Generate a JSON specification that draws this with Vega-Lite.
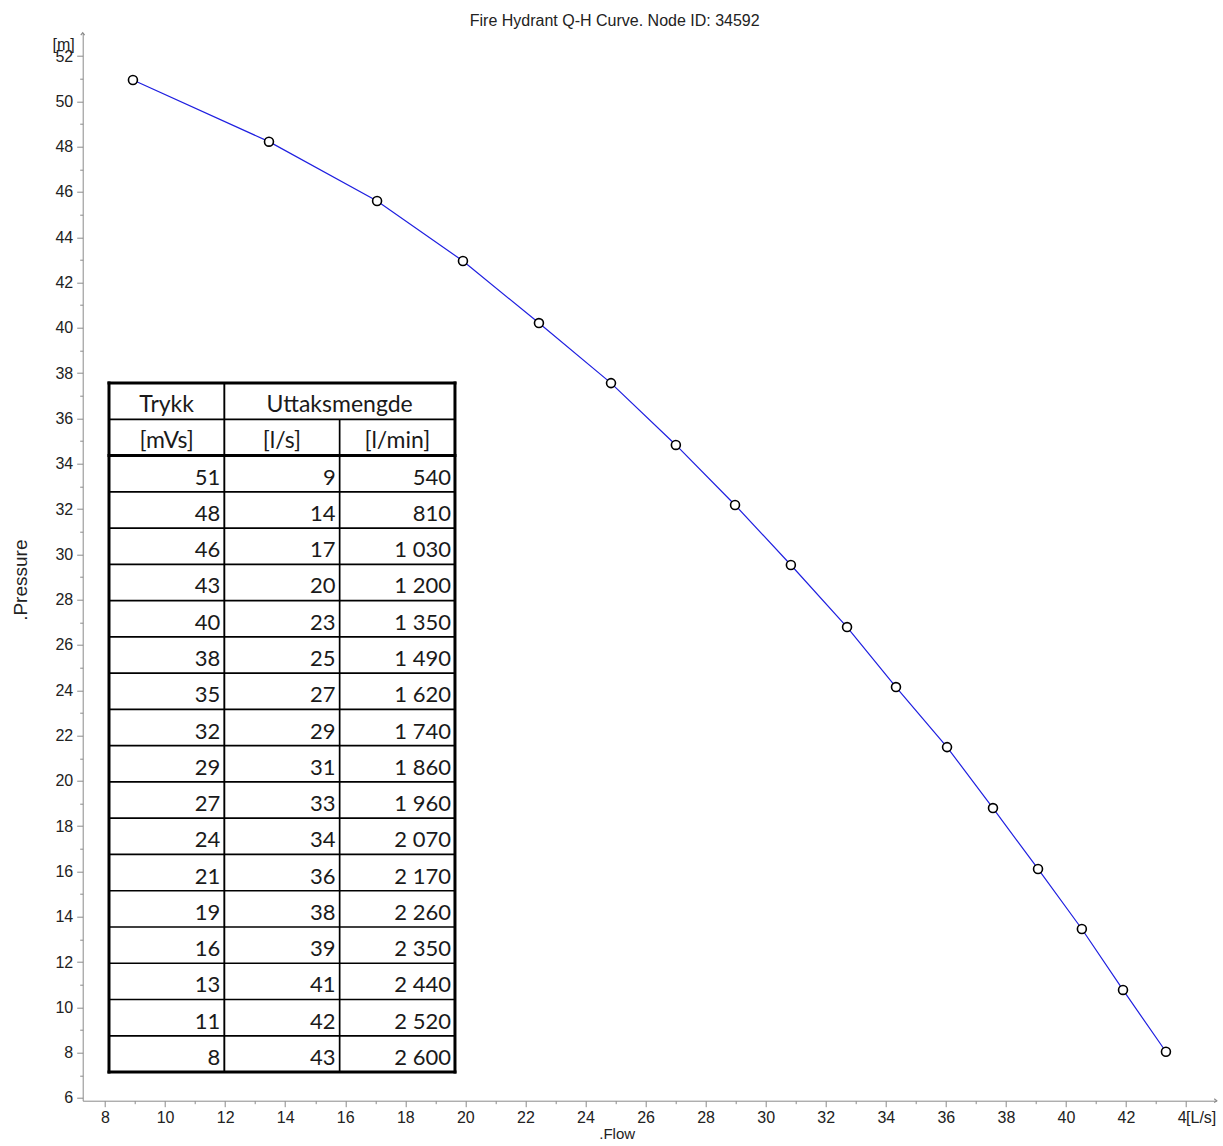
{
  "$schema": "https://vega.github.io/schema/vega-lite/v6.json",
  "width": 1134,
  "height": 1068,
  "autosize": {"type": "none"},
  "padding": {"left": 82.7, "top": 32.7, "right": 6.3, "bottom": 45.3},
  "background": "white",
  "config": {
    "locale": {"number": {"decimal": ",", "thousands": "\u00a0", "grouping": [3], "currency": ["", " kr"]}},
    "view": {"stroke": null},
    "axis": {
      "grid": false,
      "domainColor": "#8a8a8a",
      "tickColor": "#8a8a8a",
      "labelColor": "#222222",
      "labelFont": "Liberation Sans",
      "labelFontSize": 16,
      "labelOverlap": false,
      "titleFont": "Liberation Sans",
      "titleFontSize": 15,
      "titleFontWeight": "normal",
      "titleColor": "#222222"
    }
  },
  "title": {
    "text": "Fire Hydrant Q-H Curve. Node ID: 34592",
    "font": "Liberation Sans",
    "fontSize": 16,
    "fontWeight": "normal",
    "color": "#222222",
    "anchor": "middle",
    "dx": -35,
    "offset": 1
  },
  "datasets": {
    "curve": [
      {"flow": 8.93, "pressure": 50.94},
      {"flow": 13.46, "pressure": 48.22},
      {"flow": 17.06, "pressure": 45.60},
      {"flow": 19.92, "pressure": 42.95},
      {"flow": 22.45, "pressure": 40.21},
      {"flow": 24.85, "pressure": 37.56},
      {"flow": 27.01, "pressure": 34.83},
      {"flow": 28.98, "pressure": 32.18},
      {"flow": 30.84, "pressure": 29.53},
      {"flow": 32.71, "pressure": 26.79},
      {"flow": 34.34, "pressure": 24.14},
      {"flow": 36.04, "pressure": 21.49},
      {"flow": 37.57, "pressure": 18.80},
      {"flow": 39.07, "pressure": 16.11},
      {"flow": 40.53, "pressure": 13.46},
      {"flow": 41.90, "pressure": 10.77},
      {"flow": 43.33, "pressure": 8.04}
    ],
    "hydrant_table": [
      {"trykk": 51, "ls": 9, "lmin": 540},
      {"trykk": 48, "ls": 14, "lmin": 810},
      {"trykk": 46, "ls": 17, "lmin": 1030},
      {"trykk": 43, "ls": 20, "lmin": 1200},
      {"trykk": 40, "ls": 23, "lmin": 1350},
      {"trykk": 38, "ls": 25, "lmin": 1490},
      {"trykk": 35, "ls": 27, "lmin": 1620},
      {"trykk": 32, "ls": 29, "lmin": 1740},
      {"trykk": 29, "ls": 31, "lmin": 1860},
      {"trykk": 27, "ls": 33, "lmin": 1960},
      {"trykk": 24, "ls": 34, "lmin": 2070},
      {"trykk": 21, "ls": 36, "lmin": 2170},
      {"trykk": 19, "ls": 38, "lmin": 2260},
      {"trykk": 16, "ls": 39, "lmin": 2350},
      {"trykk": 13, "ls": 41, "lmin": 2440},
      {"trykk": 11, "ls": 42, "lmin": 2520},
      {"trykk": 8, "ls": 43, "lmin": 2600}
    ],
    "thin_rows": [
      {"b": -0.5}, {"b": 1.5}, {"b": 2.5}, {"b": 3.5}, {"b": 4.5}, {"b": 5.5}, {"b": 6.5}, {"b": 7.5}, {"b": 8.5},
      {"b": 9.5}, {"b": 10.5}, {"b": 11.5}, {"b": 12.5}, {"b": 13.5}, {"b": 14.5}, {"b": 15.5}, {"b": 16.5}
    ],
    "thick_rows": [{"b": -1.5}, {"b": 0.5}, {"b": 17.5}],
    "thick_cols": [{"c": 0}, {"c": 3}],
    "one": [{}]
  },
  "layer": [
    {
      "layer": [
        {
          "data": {"name": "curve"},
          "mark": {"type": "line", "color": "#1f1fe0", "strokeWidth": 1.2},
          "encoding": {
            "x": {
              "field": "flow", "type": "quantitative",
              "scale": {"domain": [7.257, 45.02], "nice": false, "zero": false},
              "axis": {
                "orient": "bottom",
                "values": [8,10,12,14,16,18,20,22,24,26,28,30,32,34,36,38,40,42,44],
                "labelExpr": "datum.value === 44 ? '4' : datum.label",
                "labelAlign": {"condition": {"test": "datum.value === 44", "value": "right"}, "value": "center"},
                "tickSize": 6,
                "labelPadding": 3,
                "title": ".Flow",
                "titlePadding": 1,
                "titleX": 534
              }
            },
            "y": {
              "field": "pressure", "type": "quantitative",
              "scale": {"domain": [5.88, 53.03], "nice": false, "zero": false},
              "axis": {
                "orient": "left",
                "values": [6,8,10,12,14,16,18,20,22,24,26,28,30,32,34,36,38,40,42,44,46,48,50,52],
                "tickSize": 6,
                "labelPadding": 4,
                "title": ".Pressure",
                "titleFontSize": 19,
                "titlePadding": 24,
                "titleY": 547
              }
            }
          }
        },
        {
          "data": {"name": "curve"},
          "mark": {"type": "point", "shape": "circle", "filled": true, "fill": "white", "stroke": "black", "strokeWidth": 1.6, "size": 80, "opacity": 1},
          "encoding": {
            "x": {
              "field": "flow", "type": "quantitative",
              "axis": {
                "orient": "bottom",
                "values": [9,11,13,15,17,19,21,23,25,27,29,31,33,35,37,39,41,43],
                "tickSize": 3,
                "labels": false,
                "domain": false,
                "title": null
              }
            },
            "y": {
              "field": "pressure", "type": "quantitative",
              "axis": {
                "orient": "left",
                "values": [7,9,11,13,15,17,19,21,23,25,27,29,31,33,35,37,39,41,43,45,47,49,51],
                "tickSize": 3,
                "labels": false,
                "domain": false,
                "title": null
              }
            }
          }
        },
        {
          "data": {"name": "one"},
          "mark": {"type": "text", "text": "[m]", "font": "Liberation Sans", "fontSize": 16, "color": "#222222", "align": "center", "baseline": "middle", "dx": -19},
          "encoding": {
            "x": {"datum": 7.257, "type": "quantitative", "axis": null},
            "y": {"datum": 52.5, "type": "quantitative", "axis": null}
          }
        },
        {
          "data": {"name": "one"},
          "mark": {"type": "text", "text": "[L/s]", "font": "Liberation Sans", "fontSize": 16, "color": "#222222", "align": "left", "baseline": "middle", "dy": 17},
          "encoding": {
            "x": {"datum": 44, "type": "quantitative", "axis": null},
            "y": {"datum": 5.88, "type": "quantitative", "axis": null}
          }
        },
        {
          "data": {"name": "one"},
          "mark": {"type": "point", "shape": "M-0.7,0.9L0,0L0.7,0.9", "filled": false, "stroke": "#8a8a8a", "strokeWidth": 1.2, "size": 30, "opacity": 1},
          "encoding": {
            "x": {"datum": 7.257, "type": "quantitative", "axis": null},
            "y": {"datum": 53.03, "type": "quantitative", "axis": null}
          }
        },
        {
          "data": {"name": "one"},
          "mark": {"type": "point", "shape": "M-0.9,-0.7L0,0L-0.9,0.7", "filled": false, "stroke": "#8a8a8a", "strokeWidth": 1.2, "size": 30, "opacity": 1},
          "encoding": {
            "x": {"datum": 45.02, "type": "quantitative", "axis": null},
            "y": {"datum": 5.88, "type": "quantitative", "axis": null}
          }
        }
      ],
      "resolve": {"axis": {"x": "independent", "y": "independent"}}
    },
    {
      "layer": [
        {
          "data": {"name": "thin_rows"},
          "mark": {"type": "rule", "color": "black", "strokeWidth": 1.7},
          "encoding": {
            "y": {"field": "b", "type": "quantitative", "scale": {"domain": [-11.16, 18.29], "reverse": true, "nice": false, "zero": false}, "axis": null},
            "x": {"datum": 0, "type": "quantitative", "scale": {"domain": [-0.228, 9.605], "nice": false, "zero": false}, "axis": null},
            "x2": {"datum": 3}
          }
        },
        {
          "data": {"name": "thick_rows"},
          "mark": {"type": "rule", "color": "black", "strokeWidth": 3, "strokeCap": "square"},
          "encoding": {
            "y": {"field": "b", "type": "quantitative", "scale": {"domain": [-11.16, 18.29], "reverse": true, "nice": false, "zero": false}, "axis": null},
            "x": {"datum": 0, "type": "quantitative", "scale": {"domain": [-0.228, 9.605], "nice": false, "zero": false}, "axis": null},
            "x2": {"datum": 3}
          }
        },
        {
          "data": {"name": "thick_cols"},
          "mark": {"type": "rule", "color": "black", "strokeWidth": 3, "strokeCap": "square"},
          "encoding": {
            "x": {"field": "c", "type": "quantitative", "scale": {"domain": [-0.228, 9.605], "nice": false, "zero": false}, "axis": null},
            "y": {"datum": -1.5, "type": "quantitative", "scale": {"domain": [-11.16, 18.29], "reverse": true, "nice": false, "zero": false}, "axis": null},
            "y2": {"datum": 17.5}
          }
        },
        {
          "data": {"name": "one"},
          "mark": {"type": "rule", "color": "black", "strokeWidth": 1.9},
          "encoding": {
            "x": {"datum": 1, "type": "quantitative", "scale": {"domain": [-0.228, 9.605], "nice": false, "zero": false}, "axis": null},
            "y": {"datum": -1.5, "type": "quantitative", "scale": {"domain": [-11.16, 18.29], "reverse": true, "nice": false, "zero": false}, "axis": null},
            "y2": {"datum": 17.5}
          }
        },
        {
          "data": {"name": "one"},
          "mark": {"type": "rule", "color": "black", "strokeWidth": 1.7},
          "encoding": {
            "x": {"datum": 2, "type": "quantitative", "scale": {"domain": [-0.228, 9.605], "nice": false, "zero": false}, "axis": null},
            "y": {"datum": -0.5, "type": "quantitative", "scale": {"domain": [-11.16, 18.29], "reverse": true, "nice": false, "zero": false}, "axis": null},
            "y2": {"datum": 17.5}
          }
        },
        {
          "data": {"name": "one"},
          "mark": {"type": "text", "text": "Trykk", "font": "Lato", "fontSize": 23, "color": "#1a1a1a", "align": "center", "baseline": "alphabetic", "dy": 11},
          "encoding": {
            "x": {"datum": 0.5, "type": "quantitative", "scale": {"domain": [-0.228, 9.605], "nice": false, "zero": false}, "axis": null},
            "y": {"datum": -1, "type": "quantitative", "scale": {"domain": [-11.16, 18.29], "reverse": true, "nice": false, "zero": false}, "axis": null}
          }
        },
        {
          "data": {"name": "one"},
          "mark": {"type": "text", "text": "Uttaksmengde", "font": "Lato", "fontSize": 23, "color": "#1a1a1a", "align": "center", "baseline": "alphabetic", "dy": 11},
          "encoding": {
            "x": {"datum": 2, "type": "quantitative", "scale": {"domain": [-0.228, 9.605], "nice": false, "zero": false}, "axis": null},
            "y": {"datum": -1, "type": "quantitative", "scale": {"domain": [-11.16, 18.29], "reverse": true, "nice": false, "zero": false}, "axis": null}
          }
        },
        {
          "data": {"name": "one"},
          "mark": {"type": "text", "text": "[mVs]", "font": "Lato", "fontSize": 23, "color": "#1a1a1a", "align": "center", "baseline": "alphabetic", "dy": 11},
          "encoding": {
            "x": {"datum": 0.5, "type": "quantitative", "scale": {"domain": [-0.228, 9.605], "nice": false, "zero": false}, "axis": null},
            "y": {"datum": 0, "type": "quantitative", "scale": {"domain": [-11.16, 18.29], "reverse": true, "nice": false, "zero": false}, "axis": null}
          }
        },
        {
          "data": {"name": "one"},
          "mark": {"type": "text", "text": "[l/s]", "font": "Lato", "fontSize": 23, "color": "#1a1a1a", "align": "center", "baseline": "alphabetic", "dy": 11},
          "encoding": {
            "x": {"datum": 1.5, "type": "quantitative", "scale": {"domain": [-0.228, 9.605], "nice": false, "zero": false}, "axis": null},
            "y": {"datum": 0, "type": "quantitative", "scale": {"domain": [-11.16, 18.29], "reverse": true, "nice": false, "zero": false}, "axis": null}
          }
        },
        {
          "data": {"name": "one"},
          "mark": {"type": "text", "text": "[l/min]", "font": "Lato", "fontSize": 23, "color": "#1a1a1a", "align": "center", "baseline": "alphabetic", "dy": 11},
          "encoding": {
            "x": {"datum": 2.5, "type": "quantitative", "scale": {"domain": [-0.228, 9.605], "nice": false, "zero": false}, "axis": null},
            "y": {"datum": 0, "type": "quantitative", "scale": {"domain": [-11.16, 18.29], "reverse": true, "nice": false, "zero": false}, "axis": null}
          }
        },
        {
          "data": {"name": "hydrant_table"},
          "transform": [{"window": [{"op": "row_number", "as": "row"}]}],
          "mark": {"type": "text", "font": "Lato", "fontSize": 22, "color": "#1a1a1a", "align": "right", "baseline": "alphabetic", "dy": 11, "dx": -4},
          "encoding": {
            "x": {"datum": 1, "type": "quantitative", "scale": {"domain": [-0.228, 9.605], "nice": false, "zero": false}, "axis": null},
            "y": {"field": "row", "type": "quantitative", "scale": {"domain": [-11.16, 18.29], "reverse": true, "nice": false, "zero": false}, "axis": null},
            "text": {"field": "trykk", "type": "quantitative", "format": "d"}
          }
        },
        {
          "data": {"name": "hydrant_table"},
          "transform": [{"window": [{"op": "row_number", "as": "row"}]}],
          "mark": {"type": "text", "font": "Lato", "fontSize": 22, "color": "#1a1a1a", "align": "right", "baseline": "alphabetic", "dy": 11, "dx": -4},
          "encoding": {
            "x": {"datum": 2, "type": "quantitative", "scale": {"domain": [-0.228, 9.605], "nice": false, "zero": false}, "axis": null},
            "y": {"field": "row", "type": "quantitative", "scale": {"domain": [-11.16, 18.29], "reverse": true, "nice": false, "zero": false}, "axis": null},
            "text": {"field": "ls", "type": "quantitative", "format": "d"}
          }
        },
        {
          "data": {"name": "hydrant_table"},
          "transform": [{"window": [{"op": "row_number", "as": "row"}]}],
          "mark": {"type": "text", "font": "Lato", "fontSize": 22, "color": "#1a1a1a", "align": "right", "baseline": "alphabetic", "dy": 11, "dx": -4},
          "encoding": {
            "x": {"datum": 3, "type": "quantitative", "scale": {"domain": [-0.228, 9.605], "nice": false, "zero": false}, "axis": null},
            "y": {"field": "row", "type": "quantitative", "scale": {"domain": [-11.16, 18.29], "reverse": true, "nice": false, "zero": false}, "axis": null},
            "text": {"field": "lmin", "type": "quantitative", "format": ",d"}
          }
        }
      ]
    }
  ],
  "resolve": {"scale": {"x": "independent", "y": "independent"}}
}
